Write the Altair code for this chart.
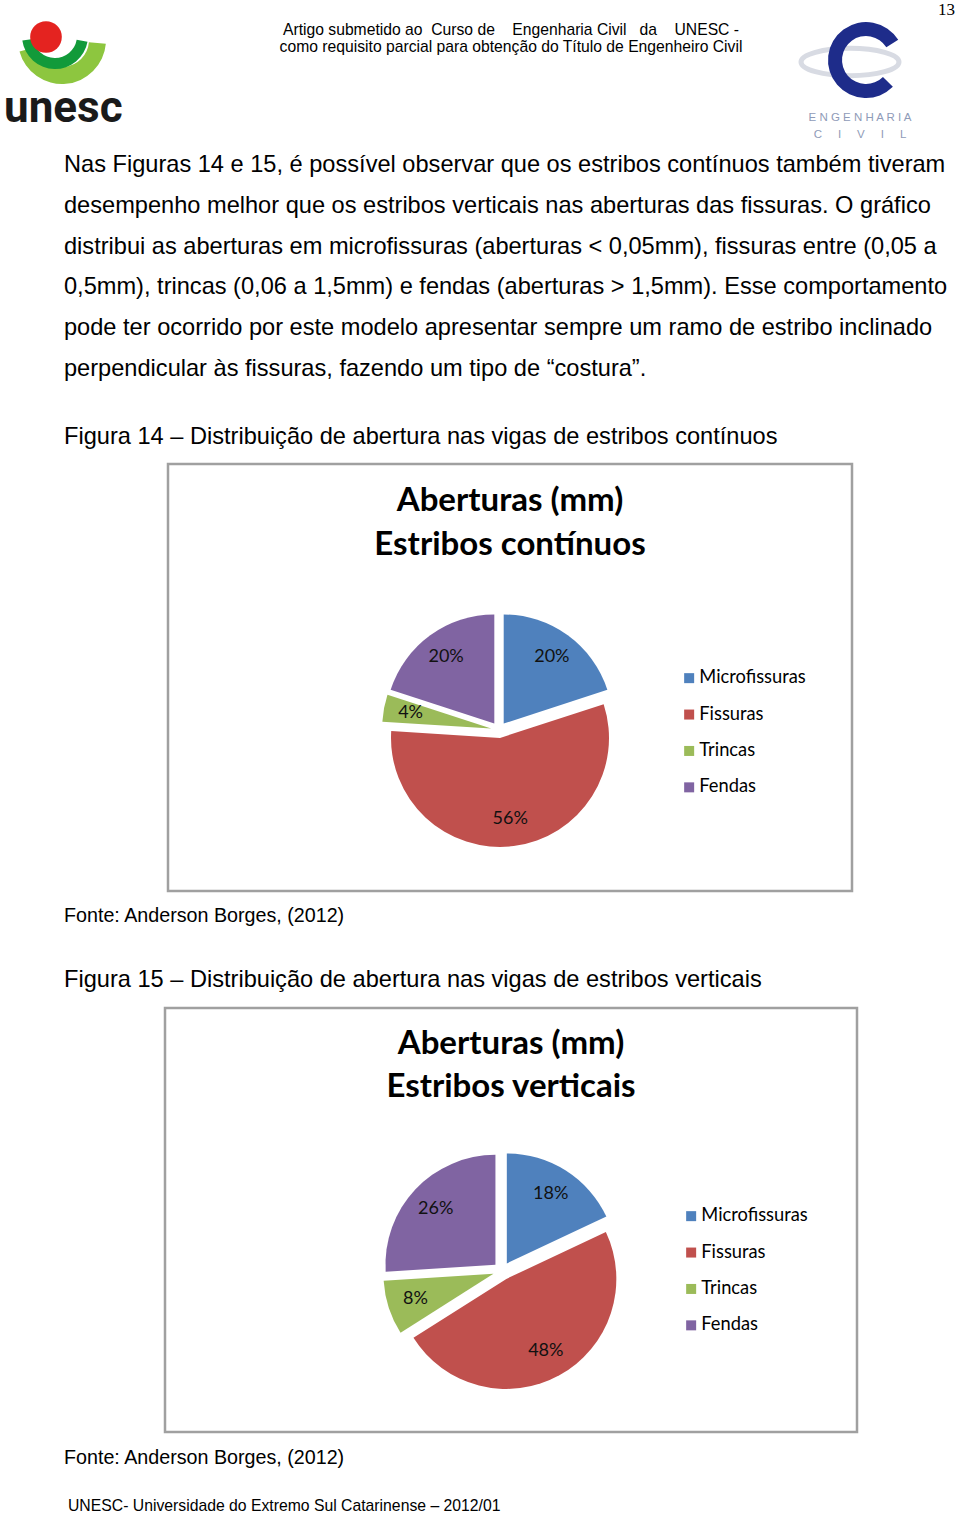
import math
import pandas as pd
import altair as alt

# ---------------- data ----------------
categories = ["Microfissuras", "Fissuras", "Trincas", "Fendas"]
continuos_pct = [20, 56, 4, 20]
verticais_pct = [18, 48, 8, 26]
colors = ["#4F81BD", "#C0504D", "#9BBB59", "#8064A2"]

NB = "\u00a0"
header_lines = [
    f"Artigo submetido ao {NB}Curso de {NB}{NB}{NB}Engenharia Civil {NB}{NB}da {NB}{NB}{NB}UNESC -",
    "como requisito parcial para obtenção do Título de Engenheiro Civil",
]
paragraph_lines = [
    "Nas Figuras 14 e 15, é possível observar que os estribos contínuos também tiveram",
    "desempenho melhor que os estribos verticais nas aberturas das fissuras. O gráfico",
    "distribui as aberturas em microfissuras (aberturas < 0,05mm), fissuras entre (0,05 a",
    "0,5mm), trincas (0,06 a 1,5mm) e fendas (aberturas > 1,5mm). Esse comportamento",
    "pode ter ocorrido por este modelo apresentar sempre um ramo de estribo inclinado",
    "perpendicular às fissuras, fazendo um tipo de “costura”.",
]
caption14 = "Figura 14 – Distribuição de abertura nas vigas de estribos contínuos"
caption15 = "Figura 15 – Distribuição de abertura nas vigas de estribos verticais"
fonte = "Fonte: Anderson Borges, (2012)"
footer = "UNESC- Universidade do Extremo Sul Catarinense – 2012/01"
title14 = ["Aberturas (mm)", "Estribos contínuos"]
title15 = ["Aberturas (mm)", "Estribos verticais"]

W, H = 960, 1516
TWO_PI = 2 * math.pi
one = pd.DataFrame({"k": [0]})


def txt(s, x, y, size, font="Liberation Sans", weight="normal", align="left",
        color="black", baseline="middle"):
    return alt.Chart(one).mark_text(
        text=s, font=font, fontSize=size, fontWeight=weight, align=align,
        baseline=baseline, color=color
    ).encode(x=alt.value(x), y=alt.value(y))


def box(x1, y1, x2, y2):
    return alt.Chart(one).mark_rect(
        fill="white", stroke="#a0a0a0", strokeWidth=2.5
    ).encode(x=alt.value(x1), x2=alt.value(x2), y=alt.value(y1), y2=alt.value(y2))


def pie(values, cx, cy, r, d, lr, lx, ly):
    df = pd.DataFrame({"cat": categories, "value": values,
                       "order": list(range(len(categories)))})
    base = alt.Chart(df).transform_window(
        cum="sum(value)", frame=[None, 0], sort=[alt.SortField("order")]
    ).transform_calculate(
        start="datum.cum - datum.value",
        mid=f"(datum.cum - datum.value / 2) * {TWO_PI} / 100",
    ).transform_calculate(
        px=f"{cx} + {d} * sin(datum.mid)",
        py=f"{cy} - {d} * cos(datum.mid)",
        tx=f"{cx} + {d + lr} * sin(datum.mid)",
        ty=f"{cy} - {d + lr} * cos(datum.mid)",
        label="datum.value + '%'",
    )
    arcs = base.mark_arc(radius=r, stroke=None).encode(
        theta=alt.Theta("start:Q", scale=alt.Scale(domain=[0, 100], range=[0, TWO_PI]),
                        stack=None),
        theta2="cum:Q",
        x=alt.X("px:Q", scale=None),
        y=alt.Y("py:Q", scale=None),
        color=alt.Color(
            "cat:N",
            scale=alt.Scale(domain=categories, range=colors),
            legend=alt.Legend(
                orient="none", legendX=lx, legendY=ly, title=None,
                symbolType="square", symbolSize=100, symbolStrokeWidth=0,
                labelFont="Lato", labelFontSize=18.3, labelColor="black",
                rowPadding=17.4, labelOffset=1, padding=0,
            ),
        ),
    )
    labels = base.mark_text(font="Lato", fontSize=18, color="#111111",
                            baseline="middle", align="center").encode(
        x=alt.X("tx:Q", scale=None),
        y=alt.Y("ty:Q", scale=None),
        text="label:N",
    )
    return arcs, labels


layers = []

# ---------- header logos ----------
# unesc logo
layers.append(alt.Chart(one).mark_arc(color="#8DC63F", innerRadius=27, outerRadius=44,
                                      theta=math.radians(95), theta2=math.radians(255))
              .encode(x=alt.value(62), y=alt.value(40)))
layers.append(alt.Chart(one).mark_arc(color="#129A3A", innerRadius=22, outerRadius=33,
                                      theta=math.radians(100), theta2=math.radians(262))
              .encode(x=alt.value(55), y=alt.value(36)))
layers.append(alt.Chart(one).mark_point(filled=True, color="#E42320", size=1000, opacity=1)
              .encode(x=alt.value(46), y=alt.value(37)))
layers.append(txt("unesc", 4, 122, 44, font="Roboto", weight="bold",
                  color="#1a1a1a", baseline="alphabetic"))
# engenharia civil logo
layers.append(alt.Chart(one).mark_point(
    shape="M -1 0 A 1 0.28 0 1 0 1 0 A 1 0.28 0 1 0 -1 0 Z",
    filled=False, stroke="#c8ccd8", strokeWidth=5, size=9600)
    .encode(x=alt.value(850), y=alt.value(62)))
layers.append(alt.Chart(one).mark_arc(color="#1E2C8A", innerRadius=24, outerRadius=38,
                                      theta=math.radians(135), theta2=math.radians(418))
              .encode(x=alt.value(866), y=alt.value(60)))
layers.append(txt("E N G E N H A R I A", 860, 118, 11.5, align="center", color="#8f9bb8"))
layers.append(txt(f"C{NB*5}I{NB*5}V{NB*5}I{NB*5}L", 860, 135, 11.5, align="center",
                  color="#8f9bb8"))

# page number and header
layers.append(txt("13", 955, 10, 17, font="Liberation Serif", align="right"))
layers.append(txt(header_lines[0], 511, 30, 15.7, align="center"))
layers.append(txt(header_lines[1], 511, 47, 15.7, align="center"))

# ---------- paragraph ----------
for i, line in enumerate(paragraph_lines):
    layers.append(txt(line, 64, 165 + i * 40.8, 23.6))

# ---------- figure 14 ----------
layers.append(txt(caption14, 64, 437, 23.6))
layers.append(box(168, 464, 852, 891))
layers.append(txt(title14[0], 510, 501, 33, font="Lato", weight="bold", align="center"))
layers.append(txt(title14[1], 510, 545, 33, font="Lato", weight="bold", align="center"))
a1, l1 = pie(continuos_pct, 499, 730, 109, 8, 82, 680, 669)
layers += [a1, l1]
layers.append(txt(fonte, 64, 916, 19.7))

# ---------- figure 15 ----------
layers.append(txt(caption15, 64, 980, 23.6))
layers.append(box(165, 1008, 857, 1432))
layers.append(txt(title15[0], 511, 1044, 33, font="Lato", weight="bold", align="center"))
layers.append(txt(title15[1], 511, 1087, 33, font="Lato", weight="bold", align="center"))
a2, l2 = pie(verticais_pct, 502, 1271, 110, 9, 82, 682, 1207)
layers += [a2, l2]
layers.append(txt(fonte, 64, 1458, 19.7))

# footer
layers.append(txt(footer, 68, 1506, 15.75))

chart = alt.layer(*layers).resolve_scale(color="independent").properties(
    width=W, height=H, padding=0, autosize=alt.AutoSizeParams(type="none"),
    background="white",
).configure_view(stroke=None)

chart.save("out.html", embed_options={"renderer": "svg", "actions": False})
